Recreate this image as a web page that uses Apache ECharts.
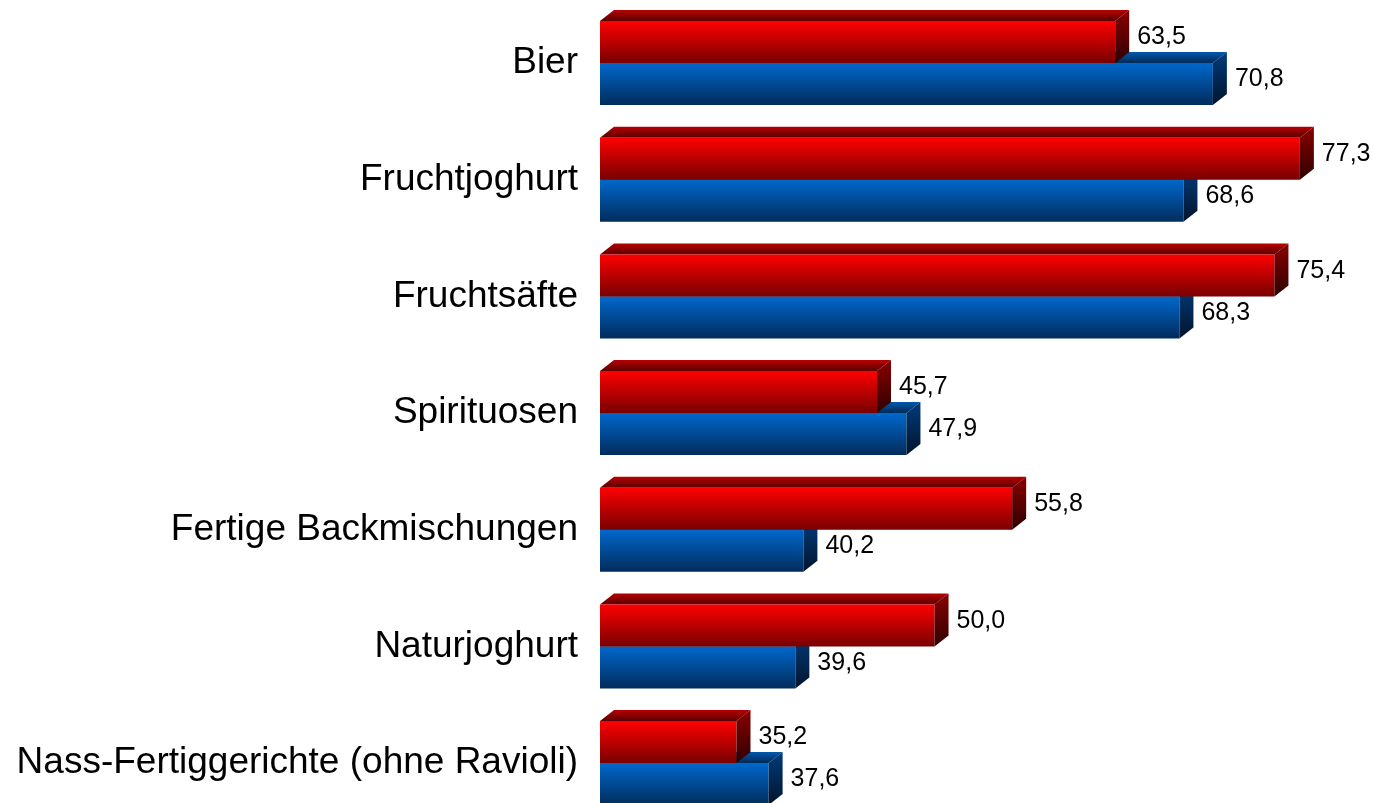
<!DOCTYPE html>
<html>
<head>
<meta charset="utf-8">
<script src="https://cdn.jsdelivr.net/npm/echarts@6/dist/echarts.min.js"></script>
<style>
  html, body { margin: 0; padding: 0; background: #fff; }
  #chart { width: 1373px; height: 803px; }
</style>
</head>
<body>
<div id="chart"></div>
<script>
// Kategorien (von oben nach unten)
const categories = [
  'Bier',
  'Fruchtjoghurt',
  'Fruchtsäfte',
  'Spirituosen',
  'Fertige Backmischungen',
  'Naturjoghurt',
  'Nass-Fertiggerichte (ohne Ravioli)'
]
// rote Balken (oben)
const redValues = [63.5, 77.3, 75.4, 45.7, 55.8, 50.0, 35.2]
// blaue Balken (unten)
const blueValues = [70.8, 68.6, 68.3, 47.9, 40.2, 39.6, 37.6]

const X_MIN = 25
const X_MAX = 80
const DEPTH_X = 14
const DEPTH_Y = 11

const fmt = v => v.toFixed(1).replace('.', ',')

const palette = {
  red: {
    front: ['#ff0000', '#780000'],
    top: ['#b80000', '#5a0000'],
    side: ['#8a0000', '#2e0000']
  },
  blue: {
    front: ['#0068cc', '#002c5c'],
    top: ['#0058ae', '#002a55'],
    side: ['#003c7a', '#00142e']
  }
}

function grad(c) {
  return new echarts.graphic.LinearGradient(0, 0, 0, 1, [
    { offset: 0, color: c[0] },
    { offset: 1, color: c[1] }
  ])
}

// zeichnet einen 3D-Quader pro Wert
function makeRender(colors, upper) {
  return function (params, api) {
    const v = api.value(0)
    const c = api.value(1)
    const start = api.coord([X_MIN, c])
    const end = api.coord([v, c])
    const band = api.size([0, 1])[1]
    const h = band * 0.36
    const y0 = upper ? start[1] - h : start[1]
    const y1 = y0 + h
    const x0 = start[0]
    const x1 = end[0]
    return {
      type: 'group',
      children: [
        {
          type: 'polygon',
          shape: { points: [[x0, y0], [x0 + DEPTH_X, y0 - DEPTH_Y], [x1 + DEPTH_X, y0 - DEPTH_Y], [x1, y0]] },
          style: { fill: grad(colors.top) }
        },
        {
          type: 'rect',
          shape: { x: x0, y: y0, width: x1 - x0, height: h },
          style: { fill: grad(colors.front) }
        },
        {
          type: 'polygon',
          shape: { points: [[x1, y0], [x1 + DEPTH_X, y0 - DEPTH_Y], [x1 + DEPTH_X, y1 - DEPTH_Y], [x1, y1]] },
          style: { fill: grad(colors.side) }
        },
        {
          type: 'text',
          x: x1 + 22,
          y: (y0 - DEPTH_Y + y1) / 2 + 1,
          style: {
            text: fmt(v),
            fill: '#000',
            fontSize: 25,
            fontFamily: 'Arial, "Liberation Sans", sans-serif',
            textAlign: 'left',
            textVerticalAlign: 'middle'
          }
        }
      ]
    }
  }
}

const chart = echarts.init(document.getElementById('chart'))

chart.setOption({
  animation: false,
  grid: { left: 600, right: 37, top: 4.7, height: 816.7, containLabel: false, outerBoundsMode: 'none' },
  xAxis: {
    type: 'value',
    min: X_MIN,
    max: X_MAX,
    show: false
  },
  yAxis: {
    type: 'category',
    data: categories,
    inverse: true,
    axisLine: { show: false },
    axisTick: { show: false },
    splitLine: { show: false },
    axisLabel: {
      color: '#000',
      fontSize: 37,
      fontFamily: 'Arial, "Liberation Sans", sans-serif',
      margin: 22
    }
  },
  series: [
    {
      name: 'blau',
      type: 'custom',
      renderItem: makeRender(palette.blue, false),
      encode: { x: 0, y: 1 },
      data: blueValues.map((v, i) => [v, i])
    },
    {
      name: 'rot',
      type: 'custom',
      renderItem: makeRender(palette.red, true),
      encode: { x: 0, y: 1 },
      data: redValues.map((v, i) => [v, i])
    }
  ]
})
</script>
</body>
</html>
